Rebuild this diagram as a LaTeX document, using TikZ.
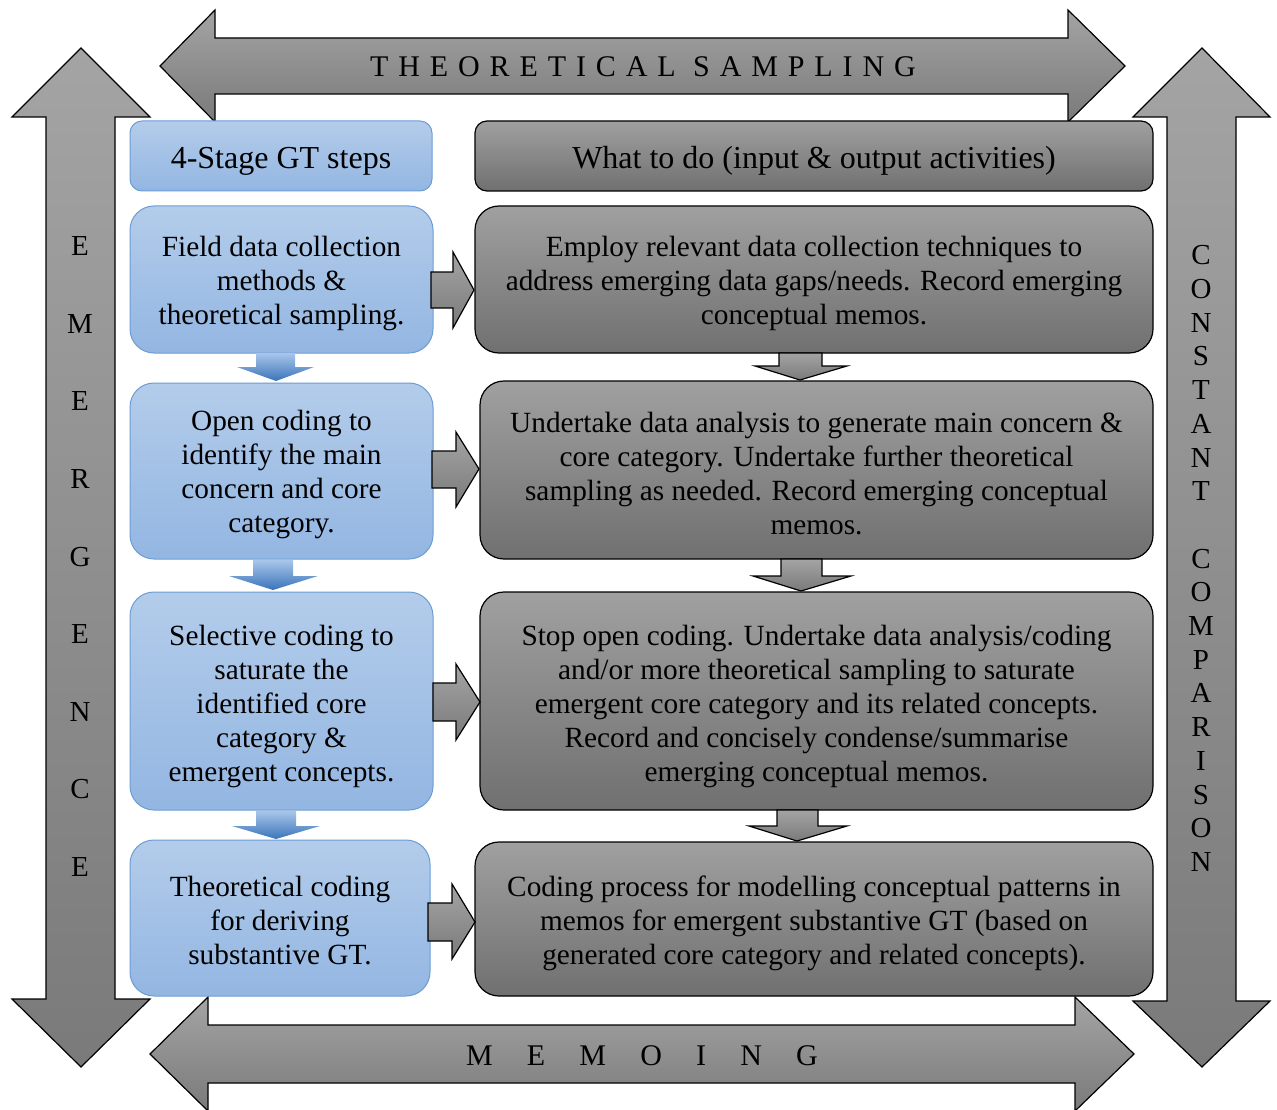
\documentclass[tikz,border=0pt]{standalone}
\usepackage{fontspec}
\setmainfont{Liberation Serif}
\definecolor{blueTop}{HTML}{B3CCEA}
\definecolor{blueBot}{HTML}{93B6E2}
\definecolor{blueLine}{HTML}{6C9DD4}
\definecolor{grayTop}{HTML}{A0A0A0}
\definecolor{grayBot}{HTML}{707070}
\definecolor{arrTop}{HTML}{A4A4A4}
\definecolor{arrBot}{HTML}{7A7A7A}
\definecolor{dropTop}{HTML}{A9C6EA}
\definecolor{dropBot}{HTML}{3A74BA}
\newcommand\bodyfont{\fontsize{29.3}{34}\selectfont}
\newcommand\headfont{\fontsize{32}{36}\selectfont}
\begin{document}
\begin{tikzpicture}[x=1pt,y=-1pt,
  bigarrow/.style={draw=black, line width=1.2pt, line join=miter, top color=arrTop, bottom color=arrBot},
  smallarrow/.style={draw=black, line width=1.2pt, line join=miter, top color=arrTop, bottom color=arrBot},
  droparrow/.style={top color=dropTop, bottom color=dropBot},
  lbox/.style={draw=blueLine, line width=1pt, rounded corners=24pt, top color=blueTop, bottom color=blueBot,
    inner sep=0pt},
  rbox/.style={draw=black, line width=1.2pt, rounded corners=24pt, top color=grayTop, bottom color=grayBot,
    inner sep=0pt},
  headbox/.style={rounded corners=12pt},
  boxtext/.style={align=center, inner sep=0pt, font=\bodyfont},
  headtext/.style={inner sep=0pt, font=\headfont},
  bandtext/.style={inner sep=0pt, font=\fontsize{30}{36}\selectfont},
  vtext/.style={inner sep=0pt, align=center}
]
\useasboundingbox (0,0) rectangle (1277,1110);

% surrounding double arrows
\path[bigarrow] (160,66) -- (215,10) -- (215,38) -- (1068,38) -- (1068,10) -- (1125,66)
  -- (1068,122) -- (1068,94) -- (215,94) -- (215,122) -- cycle;
\path[bigarrow] (150,1054) -- (208,997) -- (208,1025) -- (1075,1025) -- (1075,997) -- (1134,1054)
  -- (1075,1111) -- (1075,1083) -- (208,1083) -- (208,1111) -- cycle;
\path[bigarrow] (81,48) -- (150,117) -- (115,117) -- (115,999) -- (150,999) -- (81,1067)
  -- (12,999) -- (46,999) -- (46,117) -- (12,117) -- cycle;
\path[bigarrow] (1202,48) -- (1270,117) -- (1236,117) -- (1236,1001) -- (1270,1001) -- (1202,1067)
  -- (1133,1001) -- (1167,1001) -- (1167,117) -- (1133,117) -- cycle;

\node[bandtext] (ts) at (643,67) {\addfontfeature{LetterSpace=33}THEORETICAL SAMPLING};
\node[bandtext] (memo) at (642,1056) {\addfontfeature{LetterSpace=114}MEMOING};
\node[vtext, font=\fontsize{29}{77.6}\selectfont] (emerg) at (80,556.5)
  {E\\M\\E\\R\\G\\E\\N\\C\\E};
\node[vtext, font=\fontsize{29}{33.7}\selectfont] (ccomp) at (1201,558.5)
  {C\\O\\N\\S\\T\\A\\N\\T\\[33.7pt]C\\O\\M\\P\\A\\R\\I\\S\\O\\N};

% stage column
\node[lbox, headbox, minimum width=302, minimum height=70] (lh) at (281,156) {};
\node[lbox, minimum width=303, minimum height=147] (l1) at (281.5,279.5) {};
\node[lbox, minimum width=303, minimum height=176] (l2) at (281.5,471) {};
\node[lbox, minimum width=303, minimum height=218] (l3) at (281.5,701) {};
\node[lbox, minimum width=300, minimum height=156] (l4) at (280,918) {};

\node[headtext] (lht) at ([yshift=-5pt]lh.center) {4-Stage GT steps};
\node[boxtext] (l1t) at ([yshift=-4pt]l1.center)
  {Field data collection\\methods \&\\theoretical sampling.};
\node[boxtext] (l2t) at ([yshift=-3.5pt]l2.center)
  {Open coding to\\identify the main\\concern and core\\category.};
\node[boxtext] (l3t) at ([yshift=-5pt]l3.center)
  {Selective coding to\\saturate the\\identified core\\category \&\\emergent concepts.};
\node[boxtext] (l4t) at ([yshift=-3pt]l4.center)
  {Theoretical coding\\for deriving\\substantive GT.};

% activity column
\node[rbox, headbox, minimum width=678, minimum height=70] (rh) at (814,156) {};
\node[rbox, minimum width=678, minimum height=147] (r1) at (814,279.5) {};
\node[rbox, minimum width=673, minimum height=178] (r2) at (816.5,470) {};
\node[rbox, minimum width=673, minimum height=218] (r3) at (816.5,701) {};
\node[rbox, minimum width=678, minimum height=154] (r4) at (814,919) {};

\node[headtext] (rht) at ([yshift=-5pt]rh.center) {What to do (input \& output activities)};
\node[boxtext] (r1t) at ([yshift=-4pt]r1.center)
  {Employ relevant data collection techniques to\\address emerging data gaps/needs. Record emerging\\conceptual memos.};
\node[boxtext] (r2t) at ([yshift=-3.5pt]r2.center)
  {Undertake data analysis to generate main concern \&\\core category. Undertake further theoretical\\sampling as needed. Record emerging conceptual\\memos.};
\node[boxtext] (r3t) at ([yshift=-5pt]r3.center)
  {Stop open coding. Undertake data analysis/coding\\and/or more theoretical sampling to saturate\\emergent core category and its related concepts.\\Record and concisely condense/summarise\\emerging conceptual memos.};
\node[boxtext] (r4t) at ([yshift=-4.5pt]r4.center)
  {Coding process for modelling conceptual patterns in\\memos for emergent substantive GT (based on\\generated core category and related concepts).};

% downward steps between stages
\path[droparrow] (256,353) -- (295,353) -- (295,367) -- (314,367) -- (276,381) -- (237,367) -- (256,367) -- cycle;
\path[droparrow] (253,560) -- (293,560) -- (293,576) -- (318,576) -- (273,590) -- (229,576) -- (253,576) -- cycle;
\path[droparrow] (256,811) -- (296,811) -- (296,826) -- (320,826) -- (276,839) -- (232,826) -- (256,826) -- cycle;

% downward steps between activities
\path[smallarrow] (779,353) -- (822,353) -- (822,366) -- (847,366) -- (800,380) -- (755,366) -- (779,366) -- cycle;
\path[smallarrow] (781,559) -- (822,559) -- (822,576) -- (851,576) -- (801,591) -- (753,576) -- (781,576) -- cycle;
\path[smallarrow] (777,810) -- (818,810) -- (818,826) -- (847,826) -- (797,841) -- (749,826) -- (777,826) -- cycle;

% stage to activity arrows
\path[smallarrow] (431,272) -- (453,272) -- (453,252) -- (474,290) -- (453,328) -- (453,308) -- (431,308) -- cycle;
\path[smallarrow] (432,451) -- (456,451) -- (456,432) -- (479,469) -- (456,507) -- (456,488) -- (432,488) -- cycle;
\path[smallarrow] (433,683) -- (456,683) -- (456,664) -- (480,702) -- (456,740) -- (456,721) -- (433,721) -- cycle;
\path[smallarrow] (428,903) -- (452,903) -- (452,884) -- (475,922) -- (452,959) -- (452,941) -- (428,941) -- cycle;
\end{tikzpicture}
\end{document}
